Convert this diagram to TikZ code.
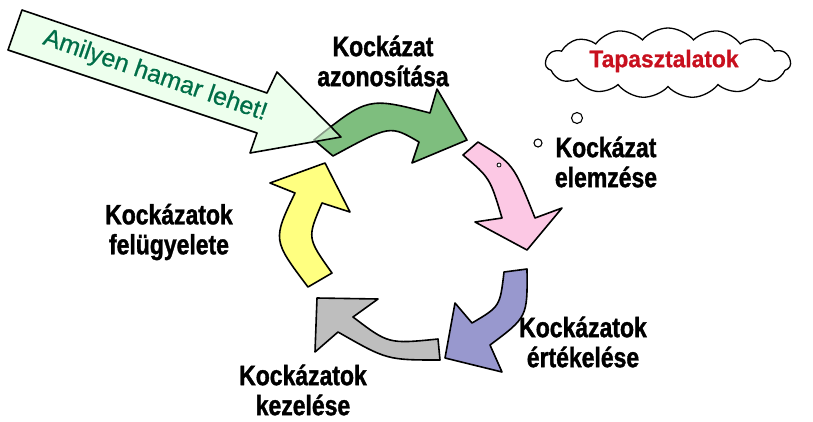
\documentclass[tikz,border=0pt]{standalone}
\usepackage{fontspec}
\setmainfont{Liberation Sans}
\newfontfamily\lblfont[FakeStretch=0.82,BoldFeatures={FakeBold=1.3}]{Liberation Sans}
\newfontfamily\redfont[FakeStretch=0.95,BoldFeatures={FakeBold=0.8}]{Liberation Sans}
\newfontfamily\hintfont[FakeBold=0.6]{Liberation Sans}
\usetikzlibrary{shapes.symbols}
\definecolor{cgreen}{RGB}{126,190,126}
\definecolor{cpink}{RGB}{252,200,228}
\definecolor{cpurple}{RGB}{152,152,206}
\definecolor{cgray}{RGB}{190,190,190}
\definecolor{cyellow}{RGB}{255,255,128}
\definecolor{clight}{RGB}{225,255,225}
\definecolor{ctext}{RGB}{0,110,72}
\definecolor{cred}{RGB}{200,16,30}
\begin{document}
\begin{tikzpicture}[x=1pt,y=-1pt,
  blockarrow/.style={draw=black, line width=1.6pt, line join=round},
  lbl/.style={font=\lblfont\bfseries\fontsize{28pt}{30pt}\selectfont, align=center, text=black, inner sep=0pt},
  bubble/.style={draw=black, line width=1.1pt, fill=white}]
\useasboundingbox (0,0) rectangle (813,421);
\fill[white] (0,0) rectangle (813,421);

% cycle arrows
\draw[blockarrow, fill=cgreen] (314,140) .. controls (368,97) .. (430,113) -- (437,89) -- (467,140) -- (412,163) -- (419,142) .. controls (390,125) .. (333,156) -- cycle;
\draw[blockarrow, fill=cpink] (478,142) .. controls (513.5,164) .. (535,218) -- (562,208) -- (527,250) -- (475,222) -- (502,218) .. controls (490,178) .. (463,155) -- cycle;
\draw[blockarrow, fill=cpurple] (527,269) .. controls (527.5,317) .. (490,345) -- (502,372) -- (445,358) -- (455,303) -- (472,323) .. controls (500,306.5) .. (504,272) -- cycle;
\draw[blockarrow, fill=cgray] (440,360) .. controls (387,360) .. (338,332) -- (315,352) -- (317,298) -- (378,299) -- (353,317) .. controls (388.5,344) .. (438,339) -- cycle;
\draw[blockarrow, fill=cyellow] (308,287) .. controls (272.5,240) .. (295,193) -- (270,183) -- (325,163) -- (350,212) -- (322,203) .. controls (307,238) .. (332,273) -- cycle;

% big light arrow
\draw[blockarrow, fill=clight, fill opacity=0.6] (22,10) -- (267,93) -- (277,72) -- (341,137) -- (250,153) -- (257,133) -- (8,50) -- cycle;
\node[rotate=-19, text=ctext, font=\hintfont\fontsize{25pt}{28pt}\selectfont, inner sep=0pt] (hint) at (155,76) {Amilyen hamar lehet!};

% cloud and bubbles
\node[cloud, draw=black, line width=1.3pt, fill=white, cloud puffs=15, cloud puff arc=100, aspect=3.6, minimum width=245pt, minimum height=70pt, inner sep=0pt] (cloud) at (668,63) {};
\node[text=cred, font=\redfont\bfseries\fontsize{24pt}{28pt}\selectfont, inner sep=0pt] (tap) at (664,61) {Tapasztalatok};
\draw[bubble] (577,118) circle[radius=5.5];
\draw[bubble] (538,143) circle[radius=4];
\draw[bubble, line width=0.8pt] (499,165) circle[radius=2];

% labels
\node[lbl] (l1) at (383,61) {Kockázat\\azonosítása};
\node[lbl] (l2) at (606,162) {Kockázat\\elemzése};
\node[lbl] (l3) at (583,342) {Kockázatok\\értékelése};
\node[lbl] (l4) at (303,390) {Kockázatok\\kezelése};
\node[lbl] (l5) at (169,232) {Kockázatok\\felügyelete};
\end{tikzpicture}
\end{document}
